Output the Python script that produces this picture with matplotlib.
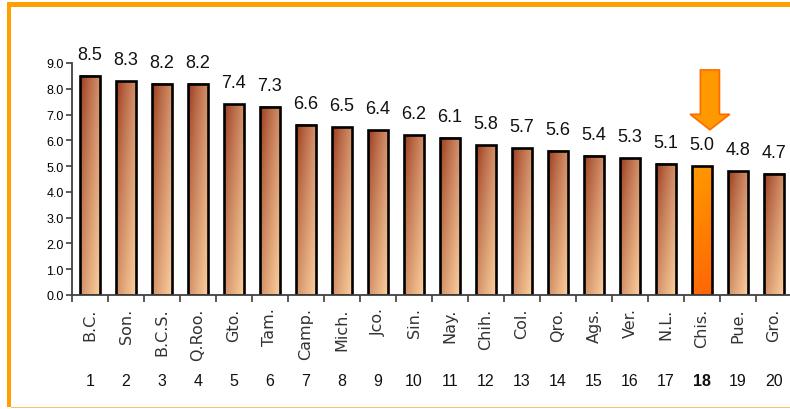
import numpy as np
import matplotlib
matplotlib.use("Agg")
import matplotlib.pyplot as plt
from matplotlib.patches import Rectangle, FancyArrow

# Data
states = ["B.C.", "Son.", "B.C.S.", "Q.Roo.", "Gto.", "Tam.", "Camp.", "Mich.", "Jco.", "Sin.",
          "Nay.", "Chih.", "Col.", "Qro.", "Ags.", "Ver.", "N.L.", "Chis.", "Pue.", "Gro."]
values = [8.5, 8.3, 8.2, 8.2, 7.4, 7.3, 6.6, 6.5, 6.4, 6.2,
          6.1, 5.8, 5.7, 5.6, 5.4, 5.3, 5.1, 5.0, 4.8, 4.7]
ranks = list(range(1, 21))
highlight = "Chis."

dark = np.array([150, 52, 25]) / 255
light = np.array([252, 208, 158]) / 255
hl_top = np.array([255, 155, 0]) / 255
hl_bot = np.array([255, 100, 5]) / 255

# gradient images (diagonal for brown bars, vertical for the highlighted one)
ny, nx = 80, 24
yf = np.linspace(0, 1, ny)[:, None]   # 0 at top
xf = np.linspace(0, 1, nx)[None, :]
t = np.clip(0.5 * xf + 0.5 * yf, 0, 1) ** 0.75
grad_brown = dark + (light - dark) * t[..., None]
t2 = np.clip(0.85 * yf + 0.15 * xf, 0, 1)[..., None] * np.ones((1, nx, 1))
grad_orange = hl_top + (hl_bot - hl_top) * t2

num_font = "Liberation Sans"

fig = plt.figure(figsize=(7.9, 4.1), dpi=100)
ax = fig.add_axes([72 / 790, 114 / 410, 720 / 790, 232 / 410])

width = 0.56
x = np.arange(len(states))
for i, (name, v) in enumerate(zip(states, values)):
    img = grad_orange if name == highlight else grad_brown
    ax.imshow(img, extent=(i - width / 2, i + width / 2, 0, v), aspect="auto",
              origin="upper", zorder=1, interpolation="bilinear")
ax.bar(x, values, width=width, facecolor="none", edgecolor="black", linewidth=1.9, zorder=2)

for i, v in enumerate(values):
    ax.annotate(f"{v:.1f}", (i, v), xytext=(0, 15.5), textcoords="offset points",
                ha="center", va="center", fontsize=13, family=num_font, color="#111111")

ax.set_xlim(-0.5, len(states) - 0.5)
ax.set_ylim(0, 9)
ax.set_yticks(np.arange(0, 10, 1))
ax.set_yticklabels([f"{v:.1f}" for v in np.arange(0, 10, 1)], fontsize=9, family=num_font)
ax.tick_params(axis="y", direction="out", length=4, width=1.2, color="#404040", pad=2)

ax.set_xticks(x)
ax.set_xticklabels(states, rotation=90, fontsize=11.5, color="#333333")
ax.set_xticks(np.arange(-0.5, len(states), 1), minor=True)
ax.tick_params(axis="x", which="major", length=0, pad=9)
ax.tick_params(axis="x", which="minor", direction="out", length=5, width=1.2, color="#404040")

for s in ["top", "right"]:
    ax.spines[s].set_visible(False)
for s in ["left", "bottom"]:
    ax.spines[s].set_color("#404040")
    ax.spines[s].set_linewidth(1.3)

# rank numbers under the labels
for i, (name, r) in enumerate(zip(states, ranks)):
    ax.text(i, -0.37, str(r), transform=ax.get_xaxis_transform(), ha="center", va="center",
            fontsize=11.5, family=num_font,
            fontweight="bold" if name == highlight else "normal", color="#111111")

# arrow pointing at the highlighted state
hi = states.index(highlight)
hv = values[hi]
ax.add_patch(FancyArrow(hi + 0.22, hv + 3.73, 0, -2.32, width=0.53, head_width=1.1,
                        head_length=0.6, length_includes_head=True,
                        facecolor="#FF9900", edgecolor="#FF6A00", linewidth=1.2,
                        zorder=3, clip_on=False))

# orange frame
fig.add_artist(Rectangle((8 / 790, 402 / 410), 782 / 790, 5 / 410, transform=fig.transFigure,
                         facecolor="#FF9F00", edgecolor="none"))
fig.add_artist(Rectangle((7 / 790, 2 / 410), 4 / 790, 405 / 410, transform=fig.transFigure,
                         facecolor="#FF9F00", edgecolor="none"))
fig.add_artist(Rectangle((11 / 790, 1 / 410), 779 / 790, 1.2 / 410, transform=fig.transFigure,
                         facecolor="#F7C070", edgecolor="none"))

fig.savefig("out.png", dpi=100)
